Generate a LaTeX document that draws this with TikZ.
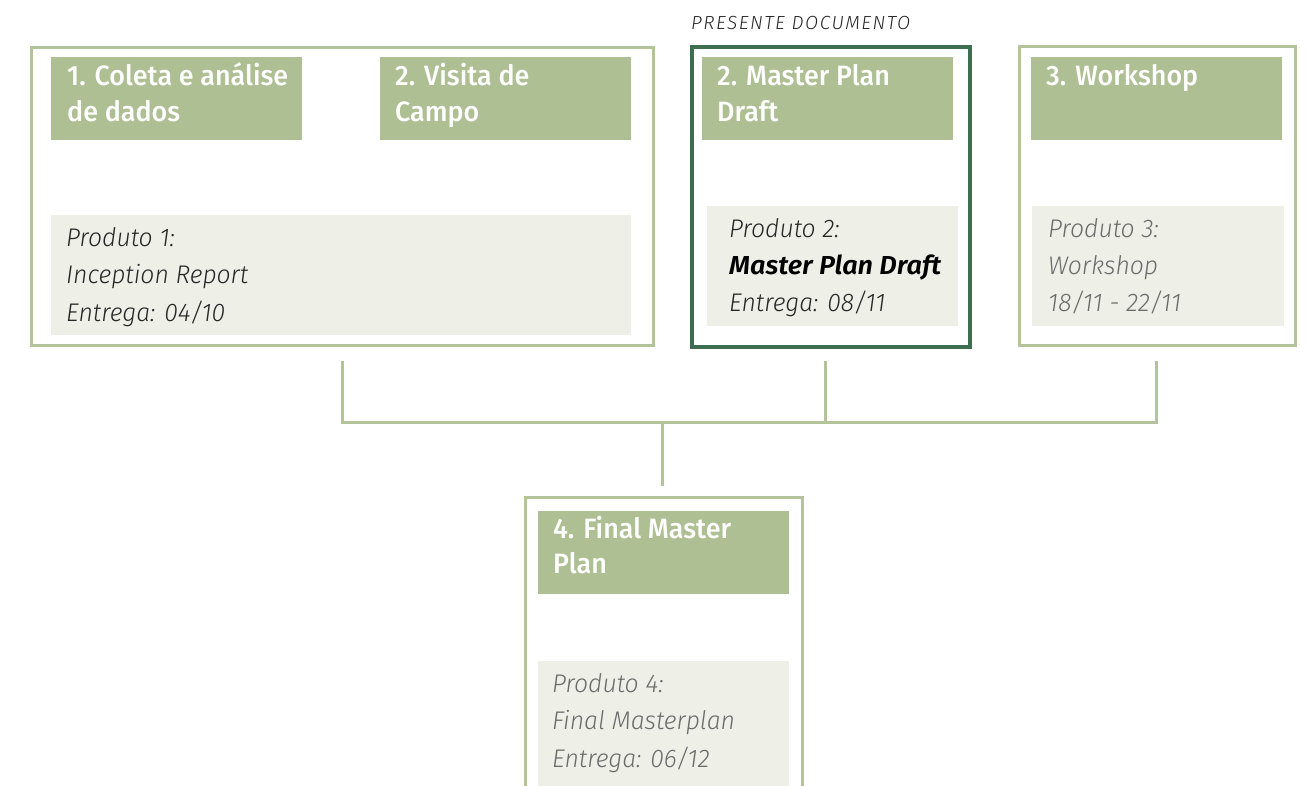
\documentclass[tikz,border=0pt]{standalone}
\usepackage{fontspec}
\setmainfont{Fira Sans}
\newfontfamily\headfont{Fira Sans Medium}[FakeStretch=0.96]
\newfontfamily\prodfont{Fira Sans Light}[FakeStretch=0.97,ItalicFont={Fira Sans Light Italic}]
\newfontfamily\prodbold{Fira Sans SemiBold Italic}[FakeStretch=1.04]
\newfontfamily\labfont{Fira Sans Light}[ItalicFont={Fira Sans Light Italic},LetterSpace=8]
\definecolor{hdr}{HTML}{AEBF94}
\definecolor{lgreen}{HTML}{B3C49B}
\definecolor{prod}{HTML}{EEF0E8}
\definecolor{dgreen}{HTML}{3E6E50}
\definecolor{gtext}{HTML}{6B6B6B}
\definecolor{btext}{HTML}{262626}
\tikzset{
  outer/.style={draw=lgreen, line width=3pt, fill=white, inner sep=0pt},
  current/.style={draw=dgreen, line width=4pt, fill=white, inner sep=0pt},
  hdrbox/.style={fill=hdr, inner sep=0pt},
  prodbox/.style={fill=prod, inner sep=0pt},
  htext/.style={anchor=base west, inner sep=0pt, text=white, font=\headfont\fontsize{28}{36}\selectfont},
  ptext/.style={anchor=base west, inner sep=0pt, font=\prodfont\itshape\fontsize{25.5}{37}\selectfont},
  conn/.style={draw=lgreen, line width=3pt}
}
\begin{document}
\begin{tikzpicture}[x=1pt,y=-1pt]
\useasboundingbox (0,0) rectangle (1307,785);
\clip (0,0) rectangle (1307,785);
% outer boxes
\node[outer, minimum width=622pt, minimum height=298pt, anchor=north west] (b1) at (30,46) {};
\node[current, minimum width=278pt, minimum height=300pt, anchor=north west] (b2) at (690,45) {};
\node[outer, minimum width=276pt, minimum height=299pt, anchor=north west] (b3) at (1018,45) {};
\node[outer, minimum width=277pt, minimum height=320pt, anchor=north west] (b4) at (524,496) {};
% headers
\node[hdrbox, minimum width=251pt, minimum height=83pt, anchor=north west] (h1) at (51,57) {};
\node[hdrbox, minimum width=251pt, minimum height=83pt, anchor=north west] (h2) at (380,57) {};
\node[hdrbox, minimum width=251pt, minimum height=83pt, anchor=north west] (h3) at (702,57) {};
\node[hdrbox, minimum width=251pt, minimum height=83pt, anchor=north west] (h4) at (1031,57) {};
\node[hdrbox, minimum width=251pt, minimum height=83pt, anchor=north west] (h5) at (538,511) {};
% product boxes
\node[prodbox, minimum width=580pt, minimum height=120pt, anchor=north west] (p1) at (51,215) {};
\node[prodbox, minimum width=251pt, minimum height=120pt, anchor=north west] (p2) at (707,206) {};
\node[prodbox, minimum width=252pt, minimum height=120pt, anchor=north west] (p3) at (1032,206) {};
\node[prodbox, minimum width=251pt, minimum height=140pt, anchor=north west] (p4) at (538,661) {};
% header texts
\node[htext] (t1a) at (67,85) {1. Coleta e análise};
\node[htext] (t1b) at (67,121) {de dados};
\node[htext] (t2a) at (395,85) {2. Visita de};
\node[htext] (t2b) at (395,121) {Campo};
\node[htext] (t3a) at (717,85) {2. Master Plan};
\node[htext] (t3b) at (717,121) {Draft};
\node[htext] (t4a) at (1046,85) {3. Workshop};
\node[htext] (t5a) at (553,538) {4. Final Master};
\node[htext] (t5b) at (553,573) {Plan};
% product texts
\node[ptext, text=btext] (q1a) at (66,246) {Produto 1:};
\node[ptext, text=btext] (q1b) at (66,283.5) {Inception Report};
\node[ptext, text=btext] (q1c) at (66,321) {Entrega: 04/10};
\node[ptext, text=btext] (q2a) at (729,237) {Produto 2:};
\node[ptext, text=black, font=\prodbold\fontsize{26}{37}\selectfont] (q2b) at (729,274) {Master Plan Draft};
\node[ptext, text=btext] (q2c) at (729,311.5) {Entrega: 08/11};
\node[ptext, text=gtext] (q3a) at (1048,237) {Produto 3:};
\node[ptext, text=gtext] (q3b) at (1048,274) {Workshop};
\node[ptext, text=gtext] (q3c) at (1048,311.5) {18/11 - 22/11};
\node[ptext, text=gtext] (q4a) at (552,692) {Produto 4:};
\node[ptext, text=gtext] (q4b) at (552,729) {Final Masterplan};
\node[ptext, text=gtext] (q4c) at (552,767) {Entrega: 06/12};
% label
\node[anchor=base west, inner sep=0pt, text=btext, font=\labfont\itshape\fontsize{19}{20}\selectfont] (lab) at (691,29) {PRESENTE DOCUMENTO};
% connectors
\coordinate (c1) at (342,361);
\coordinate (c2) at (825,361);
\coordinate (c3) at (1156,361);
\coordinate (j1) at (342,422);
\coordinate (j2) at (825,422);
\coordinate (j3) at (1156,422);
\coordinate (j) at (662,422);
\coordinate (c4) at (662,486);
\draw[conn] (c1) -- (j1) -- (j3) -- (c3);
\draw[conn] (c2) -- (j2);
\draw[conn] (j) -- (c4);
\end{tikzpicture}
\end{document}
